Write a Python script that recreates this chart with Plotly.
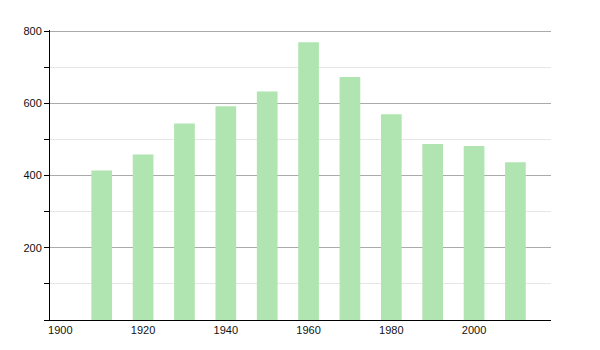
import plotly.graph_objects as go

years = [1910, 1920, 1930, 1940, 1950, 1960, 1970, 1980, 1990, 2000, 2010]
population = [414, 458, 544, 592, 633, 769, 673, 570, 487, 482, 437]
x_ticks = [1900, 1920, 1940, 1960, 1980, 2000]
y_ticks = [200, 400, 600, 800]

fig = go.Figure(go.Bar(
    x=years, y=population, width=5,
    marker=dict(color="rgb(176,228,176)", line=dict(width=0)),
))

fig.update_layout(
    width=600, height=350,
    margin=dict(l=50, r=49, t=30, b=30),
    paper_bgcolor="white", plot_bgcolor="white",
    showlegend=False,
    font=dict(family="Liberation Sans, Arial, sans-serif", size=11, color="#111"),
    xaxis=dict(
        range=[1897.5, 2018.6], tickvals=x_ticks, ticks="",
        showgrid=False, zeroline=False,
        showline=True, linecolor="black", linewidth=1,
    ),
    yaxis=dict(
        range=[0, 803], tickvals=y_ticks, ticks="outside", ticklen=5,
        tickcolor="black", showgrid=True, gridcolor="#aaaaaa", gridwidth=1,
        zeroline=False, showline=True, linecolor="black", linewidth=1,
        minor=dict(dtick=100, ticks="outside", ticklen=5, tickcolor="black",
                   showgrid=True, gridcolor="#e6e6e6", gridwidth=1),
    ),
)

fig.write_html("out.html")
